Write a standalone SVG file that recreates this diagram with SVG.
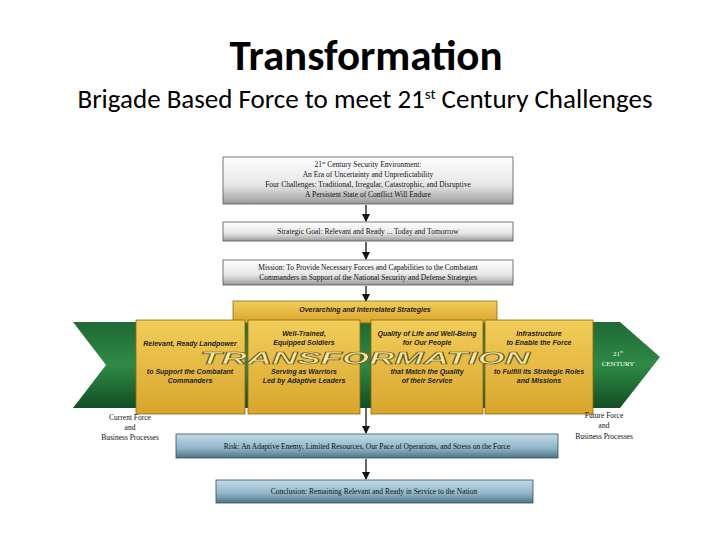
<svg xmlns="http://www.w3.org/2000/svg" width="720" height="540" viewBox="0 0 720 540">
<defs>
<linearGradient id="gray" x1="0" y1="0" x2="0" y2="1"><stop offset="0" stop-color="#ffffff"/><stop offset="0.6" stop-color="#e6e6e6"/><stop offset="1" stop-color="#9a9a9a"/></linearGradient>
<linearGradient id="yel" x1="0" y1="0" x2="0" y2="1"><stop offset="0" stop-color="#f2cd5a"/><stop offset="1" stop-color="#d9a52c"/></linearGradient>
<linearGradient id="blu" x1="0" y1="0" x2="0" y2="1"><stop offset="0" stop-color="#c4dbe8"/><stop offset="0.6" stop-color="#8fb4c8"/><stop offset="1" stop-color="#4d7387"/></linearGradient>
<linearGradient id="grn" x1="0" y1="0" x2="0" y2="1"><stop offset="0" stop-color="#1f6a35"/><stop offset="0.5" stop-color="#2f8a45"/><stop offset="1" stop-color="#134d24"/></linearGradient>
<marker id="ah" markerWidth="8" markerHeight="8" refX="7" refY="4" orient="auto" markerUnits="userSpaceOnUse"><path d="M0,0 L8,4 L0,8 z" fill="#111"/></marker>
</defs>
<style>
.t{font-family:"Liberation Serif",serif;font-size:7.5px;fill:#111;text-anchor:middle}
.y{font-family:"Liberation Sans",sans-serif;font-size:7px;font-style:italic;font-weight:bold;fill:#222;text-anchor:middle}
.g{fill:url(#gray);stroke:#555;stroke-width:0.8}
.yb{fill:url(#yel);stroke:#8a6a10;stroke-width:0.8}
.b{fill:url(#blu);stroke:#34505e;stroke-width:0.8}
.c{stroke:#111;stroke-width:1.3;fill:none;marker-end:url(#ah)}
</style>
<text x="366" y="70" font-family="Carlito,'Liberation Sans',sans-serif" font-size="43" font-weight="bold" text-anchor="middle" fill="#000">Transformation</text>
<text x="365" y="108" font-family="Carlito,'Liberation Sans',sans-serif" font-size="27" text-anchor="middle" fill="#000">Brigade Based Force to meet 21<tspan font-size="15" dy="-9">st</tspan><tspan dy="9"> Century Challenges</tspan></text>

<g id="connectors">
<line class="c" x1="366" y1="205" x2="366" y2="221"/>
<line class="c" x1="366" y1="242" x2="366" y2="259"/>
<line class="c" x1="366" y1="286" x2="366" y2="301"/>
<line class="c" x1="366" y1="395" x2="366" y2="433"/>
<line class="c" x1="366" y1="459" x2="366" y2="479"/>
</g>

<g id="env"><rect class="g" x="223" y="157" width="290" height="47"/>
<text class="t" x="368" y="167">21<tspan font-size="5" dy="-3">st</tspan><tspan dy="3"> Century Security Environment:</tspan></text>
<text class="t" x="368" y="177">An Era of Uncertainty and Unpredictability</text>
<text class="t" x="368" y="187">Four Challenges: Traditional, Irregular, Catastrophic, and Disruptive</text>
<text class="t" x="368" y="197">A Persistent State of Conflict Will Endure</text></g>

<g id="goal"><rect class="g" x="223" y="222" width="290" height="19"/>
<text class="t" x="368" y="234">Strategic Goal: Relevant and Ready ... Today and Tomorrow</text></g>

<g id="mission"><rect class="g" x="223" y="260" width="290" height="25"/>
<text class="t" x="368" y="270">Mission: To Provide Necessary Forces and Capabilities to the Combatant</text>
<text class="t" x="368" y="280">Commanders in Support of the National Security and Defense Strategies</text></g>

<g id="arrow"><polygon points="73,322 620,322 660,357 620,408 73,408 106,365" fill="url(#grn)"/>
<text x="618" y="356" font-family="Liberation Serif,serif" font-size="7" fill="#fff" text-anchor="middle">21<tspan font-size="4.5" dy="-3">st</tspan></text>
<text x="618" y="366" font-family="Liberation Serif,serif" font-size="7" fill="#fff" text-anchor="middle">CENTURY</text></g>

<g id="strategies"><rect class="yb" x="233" y="301" width="264" height="22"/>
<text class="y" x="365" y="312">Overarching and Interrelated Strategies</text></g>

<g id="s1"><rect class="yb" x="136" y="320" width="109" height="94"/>
<text class="y" x="190" y="346">Relevant, Ready Landpower</text>
<text class="y" x="190" y="374">to Support the Combatant</text>
<text class="y" x="190" y="383">Commanders</text></g>
<g id="s2"><rect class="yb" x="248" y="320" width="112" height="94"/>
<text class="y" x="304" y="336">Well-Trained,</text>
<text class="y" x="304" y="345">Equipped Soldiers</text>
<text class="y" x="304" y="374">Serving as Warriors</text>
<text class="y" x="304" y="383">Led by Adaptive Leaders</text></g>
<g id="s3"><rect class="yb" x="371" y="320" width="112" height="94"/>
<text class="y" x="427" y="336">Quality of Life and Well-Being</text>
<text class="y" x="427" y="345">for Our People</text>
<text class="y" x="427" y="374">that Match the Quality</text>
<text class="y" x="427" y="383">of their Service</text></g>
<g id="s4"><rect class="yb" x="485" y="320" width="108" height="94"/>
<text class="y" x="539" y="336">Infrastructure</text>
<text class="y" x="539" y="345">to Enable the Force</text>
<text class="y" x="539" y="374">to Fulfill its Strategic Roles</text>
<text class="y" x="539" y="383">and Missions</text></g>

<text x="200" y="364" font-family="Liberation Sans,sans-serif" font-size="17" font-weight="bold" font-style="italic" fill="#f4eaa8" stroke="#6a5a20" stroke-width="0.7" textLength="330" lengthAdjust="spacingAndGlyphs">TRANSFORMATION</text>

<g id="current"><text class="t" x="130" y="420">Current Force</text><text class="t" x="130" y="430">and</text><text class="t" x="130" y="440">Business Processes</text></g>
<g id="future"><text class="t" x="604" y="418">Future Force</text><text class="t" x="604" y="428">and</text><text class="t" x="604" y="439">Business Processes</text></g>

<g id="risk"><rect class="b" x="176" y="434" width="382" height="24"/>
<text class="t" x="367" y="449">Risk: An Adaptive Enemy, Limited Resources, Our Pace of Operations, and Stress on the Force</text></g>
<g id="conclusion"><rect class="b" x="216" y="480" width="317" height="23"/>
<text class="t" x="374" y="494">Conclusion: Remaining Relevant and Ready in Service to the Nation</text></g>
</svg>
